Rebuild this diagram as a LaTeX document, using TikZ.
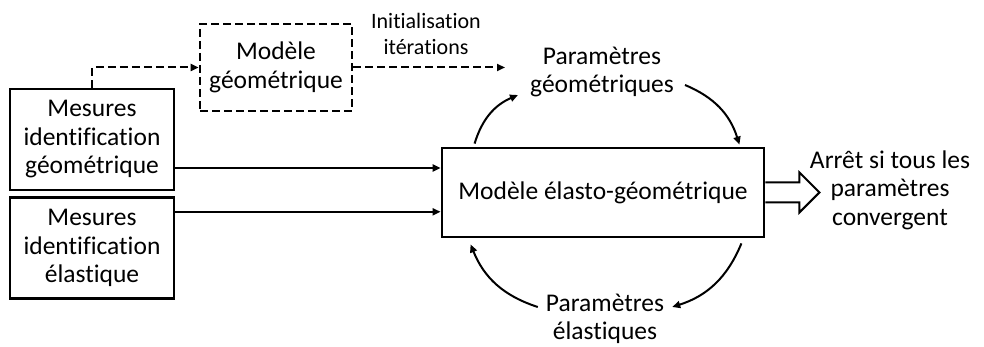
\documentclass[tikz,border=0pt]{standalone}
\usepackage{fontspec}
\setmainfont{Carlito}[Ligatures=NoCommon]
\usetikzlibrary{arrows.meta,positioning,calc}

\begin{document}
\begin{tikzpicture}[x=1pt, y=1pt, >={Triangle[length=8pt,width=7pt]}, font=\fontsize{25.5}{28.5}\selectfont]
  \tikzset{blk/.style={draw, line width=2.8pt, minimum width=164pt, minimum height=101pt, align=center, inner sep=0pt},
    lbl/.style={align=center, inner sep=0pt},
    arr/.style={->, line width=2pt},
    dsh/.style={->, line width=2pt, dash pattern=on 8pt off 4pt}}
  \useasboundingbox (0,0) rectangle (984,347);
  % left: measurements
  \node[blk] (mesgeo) at (92,207.5) {Mesures\\ identification\\ géométrique};
  \node[blk, below=5pt of mesgeo] (mesela) {Mesures\\ identification\\ élastique};
  % top: geometric model (initialisation only)
  \node[blk, dash pattern=on 8pt off 4pt, minimum width=152pt, minimum height=87pt] (modgeo) at (276,279.5) {Modèle\\ géométrique};
  \node[lbl, font=\fontsize{22}{26}\selectfont] (init) at (426,313) {Initialisation\\ itérations};
  % centre: the elasto-geometric model and its loop
  \node[blk, minimum width=322pt, minimum height=89pt] (model) at (603,154.5) {Modèle élasto-géométrique};
  \node[lbl] (pargeo) at (602,275) {Paramètres\\ géométriques};
  \node[lbl] (parela) at (605,28) {Paramètres\\ élastiques};
  \node[lbl] (stop) at (890,157) {Arrêt si tous les\\ paramètres\\ convergent};
  % inputs
  \draw[arr] ($(mesgeo.east)+(0,-28.5)$) -- (model.west |- {$(mesgeo.east)+(0,-28.5)$});
  \draw[arr] ($(mesela.east)+(0,36.5)$) -- (model.west |- {$(mesela.east)+(0,36.5)$});
  \draw[dsh] (mesgeo.north) |- (modgeo.west);
  \draw[dsh] (modgeo.east) -- ($(pargeo.west |- modgeo.east)+(-25,0)$);
  % loop
  \draw[arr] ($(model.north west)+(34,3)$) to[bend left=25] ($(pargeo.west)+(-12,-23)$);
  \draw[arr] ($(pargeo.east)+(11,-13)$) to[bend left=25] ($(model.north east)+(-26,2)$);
  \draw[arr] ($(model.south east)+(-24,-5)$) to[bend left=25] ($(parela.east)+(8,12)$);
  \draw[arr] ($(parela.west)+(-8,12)$) to[bend left=25] ($(model.south west)+(30,-6)$);
  % stop criterion
  \draw[line width=2pt, fill=white] ($(model.east)+(0,10)$) -- ++(34,0) -- ++(0,10) -- ++(20,-20) -- ++(-20,-20) -- ++(0,10) -- ($(model.east)+(0,-10)$);
\end{tikzpicture}
\end{document}
